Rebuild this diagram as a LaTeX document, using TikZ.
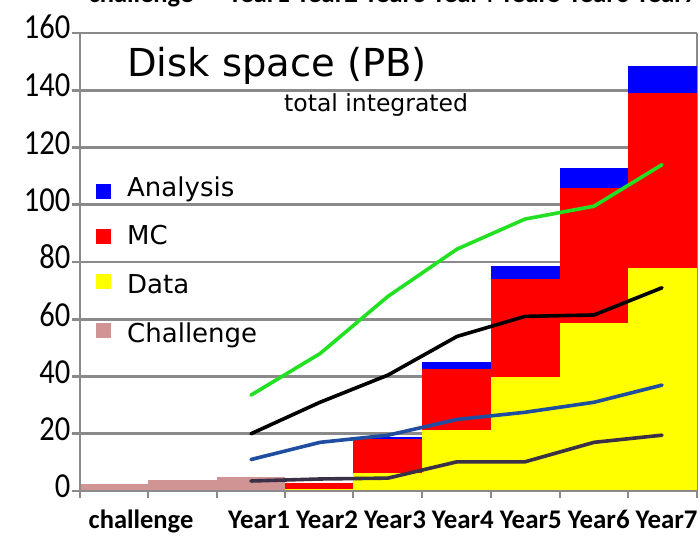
\documentclass[tikz,border=0pt]{standalone}
\usepackage{fontspec}
\setmainfont{Carlito}
\newfontfamily\comic{DejaVu Sans}
\definecolor{gridgray}{HTML}{8A8A8A}
\definecolor{chal}{HTML}{D09494}
\definecolor{barblue}{HTML}{0000FF}
\definecolor{barred}{HTML}{FF0000}
\definecolor{baryellow}{HTML}{FFFF00}
\definecolor{lgreen}{HTML}{22E022}
\definecolor{lblue}{HTML}{1F4EA0}
\definecolor{lpurple}{HTML}{3A3048}
\newcommand{\ytall}[1]{\scalebox{1}[1.15]{#1}}
\tikzset{
  gridline/.style={draw=gridgray, line width=2.6pt},
  series/.style={line width=3.6pt, line join=round, line cap=round},
  ylab/.style={anchor=base east, inner sep=0pt, font=\fontsize{30.5}{30.5}\selectfont},
  xlab/.style={anchor=base, inner sep=0pt, font=\fontsize{26.5}{26.5}\selectfont\bfseries},
  xlabw/.style={anchor=base west, inner sep=0pt, font=\fontsize{26.9}{26.9}\selectfont\bfseries},
  legtext/.style={anchor=base west, inner sep=0pt, font=\comic\fontsize{26}{26}\selectfont},
  legbox/.style={minimum size=15pt, inner sep=0pt, draw=none},
}
\begin{document}
\begin{tikzpicture}[x=1pt,y=-1pt]
\useasboundingbox (0,0) rectangle (700,535);
\fill[white] (0,0) rectangle (700,535);
% clipped copy of the category row at the top
\begin{scope}
\clip (0,0) rectangle (700,535);
\node[xlab] (topchal) at (141,3) {challenge};
\node[xlabw] (topyears) at (228,3) {Year1 Year2 Year3 Year4 Year5 Year6 Year7};
\end{scope}
% data coordinates: x in px, y in data units
\begin{scope}[shift={(0,491)}, y=2.8625pt]
  % gridlines
  \foreach \v in {20,40,...,160} {
    \draw[gridline] (80,\v) -- (697,\v);
  }
  \draw[gridline] (697,0) -- (697,160);
  % challenge bars
  \fill[chal] (80,0) rectangle (148,2.5);
  \fill[chal] (148,0) rectangle (217,3.7);
  \fill[chal] (217,0) rectangle (285,5.0);
  % Year2
  \fill[baryellow] (285,0) rectangle (353,0.7);
  \fill[barred] (285,0.7) rectangle (353,2.7);
  % Year3
  \fill[baryellow] (353,0) rectangle (422,6.3);
  \fill[barred] (353,6.3) rectangle (422,18.0);
  \fill[barblue] (353,18.0) rectangle (422,18.8);
  % Year4
  \fill[baryellow] (422,0) rectangle (491,21.3);
  \fill[barred] (422,21.3) rectangle (491,42.6);
  \fill[barblue] (422,42.6) rectangle (491,45.0);
  % Year5
  \fill[baryellow] (491,0) rectangle (560,40.0);
  \fill[barred] (491,40.0) rectangle (560,74.0);
  \fill[barblue] (491,74.0) rectangle (560,78.5);
  % Year6
  \fill[baryellow] (560,0) rectangle (628,58.6);
  \fill[barred] (560,58.6) rectangle (628,106.0);
  \fill[barblue] (560,106.0) rectangle (628,112.8);
  % Year7
  \fill[baryellow] (628,0) rectangle (697,78.0);
  \fill[barred] (628,78.0) rectangle (697,139.0);
  \fill[barblue] (628,139.0) rectangle (697,148.5);
  % axes
  \draw[gridline] (80,0) -- (80,160);
  \draw[gridline] (78.7,0) -- (697,0);
  \foreach \v in {0,20,...,160} {
    \draw[gridline] (72,\v) -- (80,\v);
  }
  \foreach \x in {80,148,217,285,353,422,491,560,628,697} {
    \draw[gridline] (\x,0) -- (\x,-2.4);
  }
  % series lines
  \draw[series, lgreen] (251,33.5) -- (320,48) -- (388,68) -- (457,84.5) -- (525,95) -- (594,99.5) -- (662,114);
  \draw[series, black] (251,20) -- (320,31) -- (388,40.5) -- (457,54) -- (525,61) -- (594,61.5) -- (662,71);
  \draw[series, lblue] (251,11) -- (320,17) -- (388,19.5) -- (457,25) -- (525,27.5) -- (594,31) -- (662,37);
  \draw[series, lpurple] (251,3.5) -- (320,4.2) -- (388,4.5) -- (457,10.2) -- (525,10.2) -- (594,17) -- (662,19.5);
\end{scope}
% y labels
\foreach \v/\py in {0/497,20/440.5,40/383.5,60/326,80/268.5,100/211,120/154,140/96.5,160/38} {
  \node[ylab] (y\v) at (70.5,\py) {\ytall{\v}};
}
% x labels
\node[xlab] (xchal) at (141,528) {challenge};
\node[xlabw] (xyears) at (228,528) {Year1 Year2 Year3 Year4 Year5 Year6 Year7};
% title
\node[anchor=base west, inner sep=0pt, font=\comic\fontsize{38.5}{38.5}\selectfont] (title) at (127,76) {Disk space (PB)};
\node[anchor=base west, inner sep=0pt, font=\comic\fontsize{23.5}{23.5}\selectfont] (subtitle) at (284,111) {total integrated};
% legend
\node[legbox, fill=barblue] (lbA) at (103,191) {};
\node[legbox, fill=barred] (lbM) at (103,236) {};
\node[legbox, fill=baryellow] (lbD) at (103,281) {};
\node[legbox, fill=chal] (lbC) at (103,330) {};
\node[legtext] (ltA) at (127,196) {Analysis};
\node[legtext] (ltM) at (127,244) {MC};
\node[legtext] (ltD) at (127,293) {Data};
\node[legtext] (ltC) at (127,342) {Challenge};
\end{tikzpicture}
\end{document}
